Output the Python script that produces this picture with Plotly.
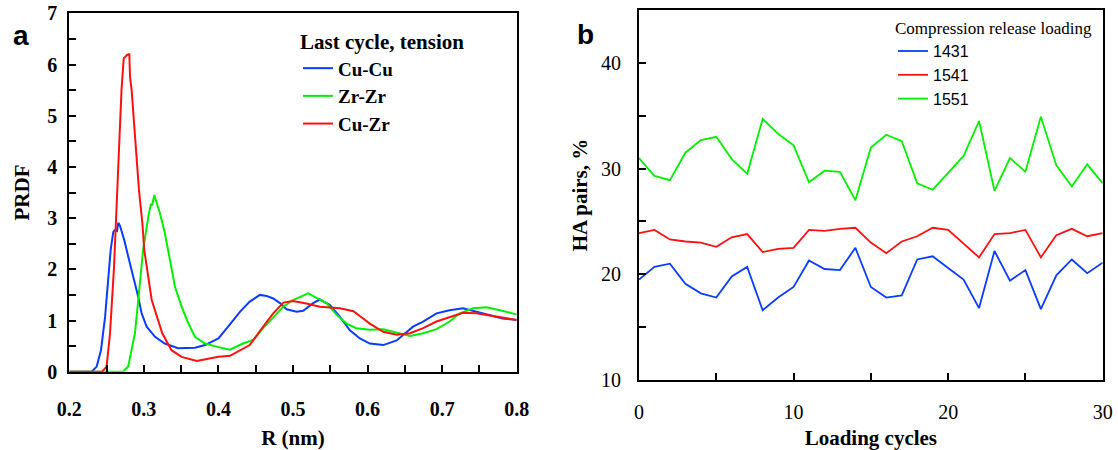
import plotly.graph_objects as go

# ---------------- Panel a: PRDF (last cycle, tension) ----------------
r_cucu = [0.20, 0.230, 0.2367, 0.2425, 0.248, 0.2515, 0.2555, 0.259, 0.2613, 0.2640, 0.2657, 0.268,
          0.2737, 0.279, 0.2858, 0.2925, 0.297, 0.3037, 0.315, 0.328, 0.346, 0.3685, 0.382, 0.40,
          0.413, 0.4288, 0.442, 0.4556, 0.4645, 0.4735, 0.4825, 0.4914, 0.5048, 0.5137, 0.527,
          0.536, 0.5495, 0.563, 0.5763, 0.5897, 0.603, 0.621, 0.639, 0.6477, 0.661, 0.6745,
          0.6925, 0.71, 0.728, 0.746, 0.764, 0.781, 0.80]
g_cucu = [0.0, 0.0, 0.10, 0.42, 1.07, 1.73, 2.38, 2.73, 2.77, 2.75, 2.91, 2.85,
          2.57, 2.25, 1.86, 1.46, 1.14, 0.88, 0.68, 0.55, 0.46, 0.47, 0.52, 0.65,
          0.88, 1.17, 1.37, 1.50, 1.48, 1.43, 1.34, 1.22, 1.17, 1.19, 1.34,
          1.41, 1.30, 1.07, 0.81, 0.65, 0.55, 0.52, 0.61, 0.72, 0.88, 0.98,
          1.14, 1.20, 1.24, 1.17, 1.10, 1.04, 1.01]

r_zrzr = [0.20, 0.272, 0.279, 0.288, 0.2925, 0.299, 0.306, 0.3095, 0.311, 0.314, 0.3216, 0.328,
          0.335, 0.3417, 0.3506, 0.3595, 0.3685, 0.382, 0.40, 0.4155, 0.433, 0.4467, 0.46,
          0.4735, 0.487, 0.50, 0.5137, 0.5204, 0.5316, 0.545, 0.5585, 0.5718, 0.585, 0.603,
          0.621, 0.639, 0.657, 0.6745, 0.6925, 0.71, 0.7237, 0.7415, 0.7595, 0.7774, 0.80]
g_zrzr = [0.0, 0.0, 0.10, 0.75, 1.40, 2.38, 3.03, 3.28, 3.25, 3.45, 3.09, 2.72,
          2.18, 1.66, 1.27, 0.95, 0.68, 0.55, 0.48, 0.43, 0.55, 0.62, 0.85,
          1.07, 1.27, 1.40, 1.48, 1.53, 1.44, 1.34, 1.11, 0.94, 0.85, 0.82,
          0.83, 0.76, 0.70, 0.75, 0.83, 0.98, 1.14, 1.24, 1.26, 1.20, 1.12]

r_cuzr = [0.20, 0.244, 0.250, 0.2546, 0.260, 0.2635, 0.267, 0.270, 0.273, 0.2778, 0.2805, 0.2814,
          0.2836, 0.289, 0.2934, 0.298, 0.3005, 0.3105, 0.3247, 0.337, 0.3506, 0.371, 0.40,
          0.4155, 0.442, 0.46, 0.4735, 0.487, 0.50, 0.518, 0.536, 0.563, 0.581, 0.594, 0.603,
          0.621, 0.639, 0.657, 0.6745, 0.6925, 0.71, 0.728, 0.746, 0.764, 0.781, 0.80]
g_cuzr = [0.0, 0.0, 0.10, 0.75, 2.05, 3.22, 4.52, 5.50, 6.12, 6.19, 6.20, 5.76,
          5.50, 4.52, 3.55, 2.90, 2.38, 1.40, 0.75, 0.42, 0.29, 0.21, 0.29,
          0.31, 0.52, 0.88, 1.14, 1.35, 1.38, 1.33, 1.27, 1.24, 1.18, 1.04, 0.94,
          0.78, 0.72, 0.75, 0.85, 0.98, 1.07, 1.15, 1.14, 1.10, 1.05, 1.01]

# ---------------- Panel b: HA pairs vs loading cycles ----------------
cycles = list(range(0, 31))
ha_1431 = [19.5, 20.7, 21.0, 19.1, 18.2, 17.8, 19.8, 20.7, 16.6, 17.8, 18.8, 21.3, 20.5, 20.4, 22.5,
           18.8, 17.8, 18.0, 21.4, 21.7, 20.6, 19.5, 16.8, 22.2, 19.4, 20.4, 16.7, 19.9, 21.4, 20.1, 21.1]
ha_1541 = [23.9, 24.2, 23.3, 23.1, 23.0, 22.6, 23.5, 23.8, 22.1, 22.4, 22.5, 24.2, 24.1, 24.3, 24.4,
           23.0, 22.0, 23.1, 23.6, 24.4, 24.2, 22.9, 21.6, 23.8, 23.9, 24.2, 21.6, 23.7, 24.3, 23.6, 23.9]
ha_1551 = [31.0, 29.3, 28.9, 31.5, 32.7, 33.0, 30.9, 29.5, 34.7, 33.3, 32.2, 28.7, 29.8, 29.7, 27.0,
           32.0, 33.2, 32.6, 28.6, 28.0, 29.6, 31.2, 34.5, 27.9, 31.0, 29.7, 34.9, 30.3, 28.3, 30.4, 28.6]

BLUE = "#0a3cff"
GREEN = "#00f000"
RED = "#ff1010"
SERIF = "Liberation Serif"
SANS = "Liberation Sans"
W, H = 1118, 450

fig = go.Figure()
for r, g, name, col in [(r_cucu, g_cucu, "Cu-Cu", BLUE),
                        (r_zrzr, g_zrzr, "Zr-Zr", GREEN),
                        (r_cuzr, g_cuzr, "Cu-Zr", RED)]:
    fig.add_trace(go.Scatter(x=r, y=g, mode="lines", name=name,
                             line=dict(color=col, width=2), xaxis="x", yaxis="y",
                             legend="legend"))

for vals, name, col in [(ha_1431, "1431", BLUE), (ha_1541, "1541", RED), (ha_1551, "1551", GREEN)]:
    fig.add_trace(go.Scatter(x=cycles, y=vals, mode="lines", name=name,
                             line=dict(color=col, width=1.8), xaxis="x2", yaxis="y2",
                             legend="legend2"))

tick_bold = dict(family=SERIF, size=20, color="black", weight="bold")
tick_reg = dict(family=SERIF, size=20, color="black")
title_bold = dict(family=SERIF, size=21, color="black", weight="bold")

common = dict(showline=True, linecolor="black", mirror=True, showgrid=False, zeroline=False,
              ticks="inside", ticklen=7, tickwidth=1.5, tickcolor="black", automargin=False)
minor_common = dict(ticks="inside", ticklen=7, tickwidth=1.5, tickcolor="black")

fig.update_layout(
    width=W, height=H,
    margin=dict(l=0, r=0, t=0, b=0, autoexpand=False),
    paper_bgcolor="white", plot_bgcolor="white",
    xaxis=dict(domain=[69.3 / W, 516.7 / W], anchor="y", range=[0.2, 0.8], tick0=0.2, dtick=0.1,
               tickformat=".1f", linewidth=2, tickfont=tick_bold, ticklabelstandoff=18,
               minor=dict(dtick=0.05, **minor_common),
               title=dict(text="R (nm)", font=title_bold, standoff=12), **common),
    yaxis=dict(domain=[1 - 371.7 / H, 1 - 13.3 / H], anchor="x", range=[0, 7], dtick=1,
               linewidth=2, tickfont=tick_bold, ticklabelstandoff=6,
               minor=dict(dtick=0.5, **minor_common),
               title=dict(text="PRDF", font=title_bold, standoff=12), **common),
    xaxis2=dict(domain=[639 / W, 1102.7 / W], anchor="y2", range=[0, 30], dtick=10,
                linewidth=1.8, tickfont=tick_reg, ticklabelstandoff=13,
                minor=dict(dtick=5, **minor_common),
                title=dict(text="Loading cycles", font=title_bold, standoff=10), **common),
    yaxis2=dict(domain=[1 - 380 / H, 1 - 10 / H], anchor="x2", range=[10, 45], tick0=10, dtick=10,
                linewidth=1.8, tickfont=tick_reg, ticklabelstandoff=12,
                minor=dict(dtick=5, **minor_common),
                title=dict(text="HA pairs, %", font=title_bold, standoff=8), **common),
    legend=dict(x=298 / W, y=1 - 22 / H, xanchor="left", yanchor="top",
                bgcolor="rgba(0,0,0,0)", borderwidth=0,
                title=dict(text="Last cycle, tension", font=title_bold),
                font=dict(family=SERIF, size=19, color="black", weight="bold")),
    legend2=dict(x=893 / W, y=1 - 12 / H, xanchor="left", yanchor="top",
                 bgcolor="rgba(0,0,0,0)", borderwidth=0,
                 title=dict(text="Compression release loading", font=dict(family=SERIF, size=17, color="black")),
                 font=dict(family=SANS, size=16, color="black")),
    annotations=[
        dict(text="a", x=21 / W, y=1 - 36 / H, xref="paper", yref="paper", showarrow=False,
             xanchor="center", yanchor="middle", font=dict(family=SANS, size=28, color="black", weight="bold")),
        dict(text="b", x=585.5 / W, y=1 - 34 / H, xref="paper", yref="paper", showarrow=False,
             xanchor="center", yanchor="middle", font=dict(family=SANS, size=28, color="black", weight="bold")),
    ],
)

fig.write_html("out.html", config={"displayModeBar": False},
               post_script="document.body.style.margin='0px';")
